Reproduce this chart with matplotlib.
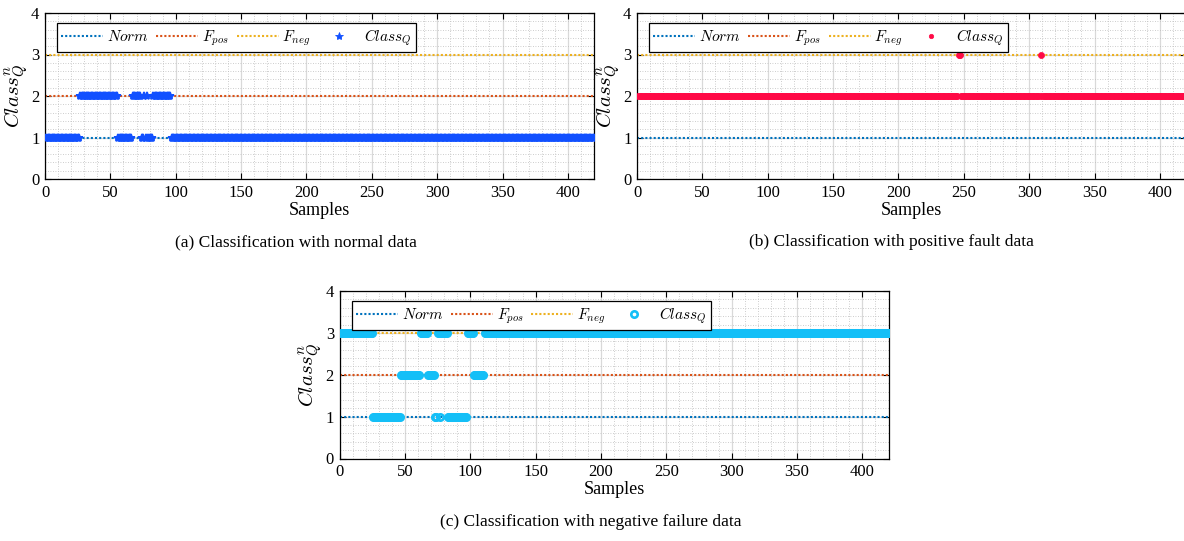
import numpy as np
import matplotlib
matplotlib.use("Agg")
import matplotlib.pyplot as plt
from matplotlib.ticker import MultipleLocator
from matplotlib.lines import Line2D

plt.rcParams['font.family'] = ['Liberation Serif', 'DejaVu Serif']
plt.rcParams['mathtext.fontset'] = 'cm'

# ---- data (run-length encoded class labels) ----
n_samples = 420
a_values = [1, 2, 1, 2, 1, 2, 1, 2, 1, 2, 1]
a_lengths = [26, 29, 11, 7, 2, 1, 1, 1, 4, 14, 324]
b_values = [2, 3, 2, 3, 2]
b_lengths = [245, 2, 61, 1, 111]
c_values = [3, 1, 2, 3, 2, 1, 3, 1, 3, 1, 3, 2, 3]
c_lengths = [25, 21, 15, 6, 5, 2, 2, 1, 5, 15, 5, 8, 310]

levels = [1, 2, 3]
level_labels = [r'$Norm$', r'$F_{pos}$', r'$F_{neg}$']
level_colors = ['#0072BD', '#D95319', '#EDB120']
class_label = r'$Class_Q$'
xticks = [0, 50, 100, 150, 200, 250, 300, 350, 400]
yticks = [0, 1, 2, 3, 4]
captions = ['(a) Classification with normal data',
            '(b) Classification with positive fault data',
            '(c) Classification with negative failure data']

samples = np.arange(1, n_samples + 1)
series_a = np.repeat(a_values, a_lengths)
series_b = np.repeat(b_values, b_lengths)
series_c = np.repeat(c_values, c_lengths)

fig = plt.figure(figsize=(11.84, 5.41), dpi=100)
W, H = 1184.0, 541.0

def make_ax(left, top, right, bottom):
    return fig.add_axes([left / W, 1 - bottom / H, (right - left) / W, (bottom - top) / H])

ax_a = make_ax(45, 13, 594, 179)
ax_b = make_ax(637, 13, 1186, 179)
ax_c = make_ax(339.5, 291, 888.5, 458.5)

styles = [
    dict(series=series_a, marker='*', color='#1150FF', ms=6.0, mfc='#1150FF', mew=1.3),
    dict(series=series_b, marker='o', color='#FF0A46', ms=4.4, mfc='#FF0A46', mew=0.5),
    dict(series=series_c, marker='o', color='#14BFF7', ms=4.6, mfc='none', mew=1.9),
]

for ax, st in zip([ax_a, ax_b, ax_c], styles):
    ax.set_xlim(0, 420)
    ax.set_ylim(0, 4)
    ax.set_xticks(xticks)
    ax.set_yticks(yticks)
    ax.xaxis.set_minor_locator(MultipleLocator(10))
    ax.yaxis.set_minor_locator(MultipleLocator(0.2))
    ax.grid(which='major', color='#d9d9d9', linestyle='-', linewidth=0.9)
    ax.grid(which='minor', color='#bdbdbd', linestyle=(0, (1, 2)), linewidth=0.6)
    ax.set_axisbelow(True)
    ax.tick_params(which='major', direction='in', length=4, width=0.8,
                   top=True, right=True, labelsize=12, pad=4)
    ax.tick_params(which='minor', length=0)
    for s in ax.spines.values():
        s.set_linewidth(0.9)
        s.set_color('black')
    handles = []
    for lv, lab, col in zip(levels, level_labels, level_colors):
        h = ax.axhline(lv, color=col, linestyle=(0, (1, 1)), linewidth=1.5, label=lab, zorder=2)
        handles.append(h)
    ax.plot(samples, st['series'], linestyle='none', marker=st['marker'],
            color=st['color'], ms=st['ms'], mfc=st['mfc'], mec=st['color'],
            mew=st['mew'], zorder=3)
    leg_ms = st['ms'] if st['marker'] != 'o' or st['mfc'] == 'none' else 3.2
    leg_mew = 0.6 if st['marker'] == '*' else st['mew']
    leg_h = Line2D([], [], linestyle='none', marker=st['marker'], color=st['color'],
                   ms=leg_ms, mfc=st['mfc'], mec=st['color'], mew=leg_mew)
    handles.append(leg_h)
    leg = ax.legend(handles, level_labels + [class_label], loc='upper left',
                    bbox_to_anchor=(12 / 549, 1 - 10 / 166), borderaxespad=0,
                    ncol=4, fontsize=11, handlelength=2.75, handletextpad=0.25,
                    columnspacing=0.5, fancybox=False, framealpha=1,
                    edgecolor='black', borderpad=0.28)
    leg.get_frame().set_linewidth(0.9)
    ax.set_xlabel('Samples', fontsize=13, labelpad=1)
    ax.set_ylabel(r'$Class_Q^n$', fontsize=15, labelpad=1)

fig.text(296 / W, 1 - 242 / H, captions[0], ha='center', va='center', fontsize=12.5)
fig.text(891 / W, 1 - 242 / H, captions[1], ha='center', va='center', fontsize=12.5)
fig.text(591 / W, 1 - 522 / H, captions[2], ha='center', va='center', fontsize=12.5)

fig.savefig('out.png', dpi=100)
